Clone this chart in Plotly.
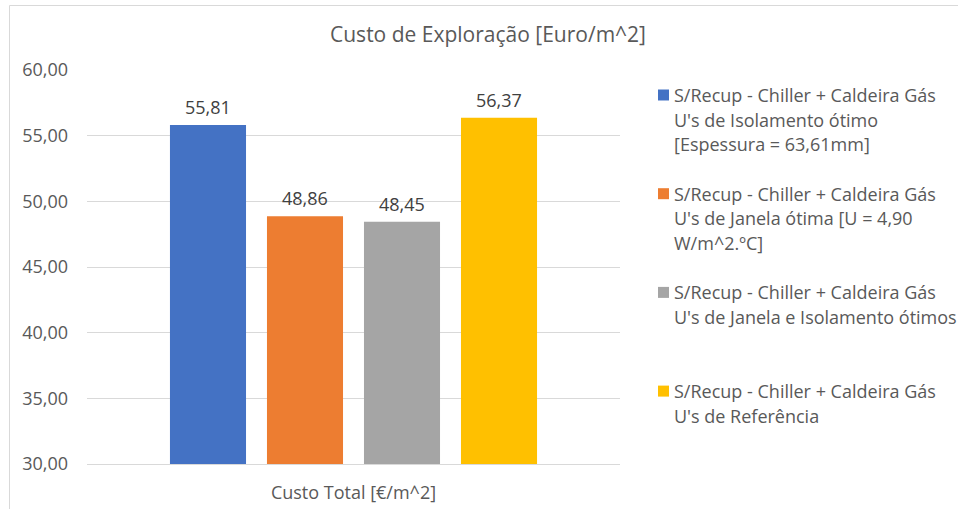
import plotly.graph_objects as go

# ---- data -------------------------------------------------------------
category = ["Custo Total [€/m^2]"]
series_names = [
    "S/Recup - Chiller + Caldeira Gás<br>U's de Isolamento ótimo<br>[Espessura = 63,61mm]",
    "S/Recup - Chiller + Caldeira Gás<br>U's de Janela ótima [U = 4,90<br>W/m^2.ºC]",
    "S/Recup - Chiller + Caldeira Gás<br>U's de Janela e Isolamento ótimos",
    "S/Recup - Chiller + Caldeira Gás<br>U's de Referência",
]
values = [55.81, 48.86, 48.45, 56.37]
colors = ["#4472C4", "#ED7D31", "#A5A5A5", "#FFC000"]
y_ticks = [30, 35, 40, 45, 50, 55, 60]
title_text = "Custo de Exploração [Euro/m^2]"

# ---- layout geometry (pixels) -------------------------------------------
W, H = 958, 509
ML, MR, MT, MB = 87, 338, 70, 45
PW, PH = W - ML - MR, H - MT - MB
BARGAP, BARGROUPGAP = 0.272, 0.216
FONT = "Open Sans"
FS = 18
TXT = "#595959"
GRID = "#D9D9D9"


def px_x(px):
    return (px - ML) / PW


def px_y(py):
    return (H - MB - py) / PH


fig = go.Figure()
for name, v, c in zip(series_names, values, colors):
    fig.add_trace(go.Bar(x=category, y=[v], name=name, showlegend=False,
                         marker=dict(color=c, line_width=0)))

annotations = []
shapes = []

# value labels above each bar
n = len(values)
slot = (1 - BARGAP) / n
for i, v in enumerate(values):
    annotations.append(dict(
        x=(i - (n - 1) / 2) * slot, y=v, xref="x", yref="y",
        text=f"{v:.2f}".replace(".", ","), showarrow=False,
        yanchor="middle", yshift=18,
        font=dict(family=FONT, size=FS, color="#404040")))

# legend: coloured square + wrapped text lines
LEG_TX, LEG_Y0, LINE_H, ENTRY_H = 672, 95, 24.7, 98.7
for i, (name, c) in enumerate(zip(series_names, colors)):
    y0 = LEG_Y0 + i * ENTRY_H
    shapes.append(dict(type="rect", xref="paper", yref="paper",
                       x0=px_x(658), x1=px_x(669),
                       y0=px_y(y0 - 5.5), y1=px_y(y0 + 5.5),
                       fillcolor=c, line_width=0))
    for j, line in enumerate(name.split("<br>")):
        annotations.append(dict(
            x=px_x(LEG_TX), y=px_y(y0 + j * LINE_H), xref="paper", yref="paper",
            text=line, showarrow=False, xanchor="left", yanchor="middle",
            font=dict(family=FONT, size=FS, color=TXT)))

# chart area border
shapes.append(dict(type="rect", xref="paper", yref="paper",
                   x0=px_x(9.5), x1=px_x(990), y0=px_y(5.5), y1=px_y(530),
                   line=dict(color=GRID, width=1), fillcolor="rgba(0,0,0,0)",
                   layer="below"))

fig.update_layout(
    width=W, height=H,
    margin=dict(l=ML, r=MR, t=MT, b=MB, pad=0, autoexpand=False),
    paper_bgcolor="white", plot_bgcolor="white",
    separators=",.",
    barmode="group", bargap=BARGAP, bargroupgap=BARGROUPGAP,
    title=dict(text=title_text, x=488 / W, y=1 - 35 / H,
               xanchor="center", yanchor="middle", xref="container",
               font=dict(family=FONT, size=21, color=TXT)),
    font=dict(family=FONT, size=FS, color=TXT),
    annotations=annotations, shapes=shapes,
    xaxis=dict(showgrid=False, showline=True, linecolor=GRID, linewidth=1,
               ticks="", automargin=False,
               tickfont=dict(family=FONT, size=FS, color=TXT),
               ticklabelstandoff=12),
    yaxis=dict(range=[30, 60], tickvals=y_ticks, tickformat=".2f",
               showgrid=True, gridcolor=GRID, gridwidth=1,
               zeroline=False, showline=False, ticks="", automargin=False,
               tickfont=dict(family=FONT, size=FS, color=TXT),
               ticklabelstandoff=18),
)

fig.write_html("out.html")
